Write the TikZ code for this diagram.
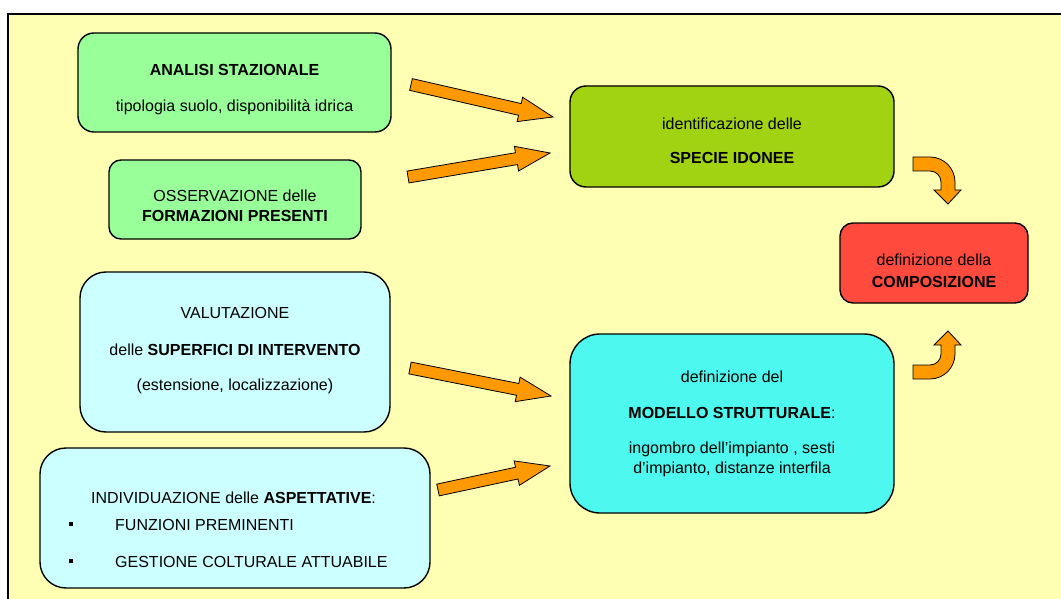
\documentclass[tikz,border=0pt]{standalone}
\usepackage{fontspec}
\setmainfont{Liberation Sans}
\usetikzlibrary{calc}
\definecolor{bgyel}{HTML}{FFFFB3}
\definecolor{lgreen}{HTML}{99FF99}
\definecolor{ygreen}{HTML}{A2D313}
\definecolor{redc}{HTML}{FF4A3D}
\definecolor{lcyan}{HTML}{CCFFFF}
\definecolor{cyanc}{HTML}{4DF8EE}
\definecolor{orangec}{HTML}{FF9900}
\newcommand\fatarrow[2]{%
  \coordinate (#1h) at ($(#2)!34pt!(#1)$);
  \draw[arr] ($(#1)!6pt!90:(#2)$) -- ($(#1h)!6pt!90:(#2)$) -- ($(#1h)!12.5pt!90:(#2)$) -- (#2)
    -- ($(#1h)!12.5pt!-90:(#2)$) -- ($(#1h)!6pt!-90:(#2)$) -- ($(#1)!6pt!-90:(#2)$) -- cycle;}
\begin{document}
\begin{tikzpicture}[x=1pt,y=-1pt,
  box/.style={draw=black, line width=1.4pt, inner sep=0pt},
  txt/.style={inner sep=0pt, anchor=base, font=\fontsize{16}{19}\selectfont},
  arr/.style={draw=black, line width=0.8pt, fill=orangec, line join=miter}]
\useasboundingbox (0,0) rectangle (1061,599);
\clip (0,0) rectangle (1061,599);
\fill[white] (0,0) rectangle (1061,599);
\draw[line width=1.4pt, fill=bgyel] (8,14) rectangle (1075,615);

% boxes
\node[box, fill=lgreen, minimum width=313pt, minimum height=99pt, rounded corners=16pt] (analisi) at (234.5,82.5) {};
\node[box, fill=lgreen, minimum width=252pt, minimum height=79pt, rounded corners=12pt] (osserv) at (235,199.5) {};
\node[box, fill=ygreen, minimum width=324pt, minimum height=101pt, rounded corners=16pt] (specie) at (732,136.5) {};
\node[box, fill=redc, minimum width=188pt, minimum height=80pt, rounded corners=13pt] (compos) at (934,263) {};
\node[box, fill=lcyan, minimum width=310pt, minimum height=160pt, rounded corners=26pt] (valut) at (235,352) {};
\node[box, fill=lcyan, minimum width=390pt, minimum height=140pt, rounded corners=26pt] (aspett) at (235,518) {};
\node[box, fill=cyanc, minimum width=324pt, minimum height=179pt, rounded corners=30pt] (modello) at (732,423.5) {};

% texts
\node[txt] (t1) at (234.5,76) {\textbf{ANALISI STAZIONALE}};
\node[txt] (t2) at (234.5,112) {tipologia suolo, disponibilità idrica};
\node[txt] (t3) at (235,201) {OSSERVAZIONE delle};
\node[txt] (t4) at (235,222) {\textbf{FORMAZIONI PRESENTI}};
\node[txt] (t5) at (235,318) {VALUTAZIONE};
\node[txt] (t6) at (235,355) {delle \textbf{SUPERFICI DI INTERVENTO}};
\node[txt] (t7) at (235,390) {(estensione, localizzazione)};
\node[txt] (t8) at (233.5,503) {INDIVIDUAZIONE delle \textbf{ASPETTATIVE}:};
\node[txt, anchor=base west] (t9) at (115,530) {FUNZIONI PREMINENTI};
\node[txt, anchor=base west] (t10) at (115,567) {GESTIONE COLTURALE ATTUABILE};
\node[fill=black, inner sep=0pt, minimum size=4.5pt] (b1) at (71,524) {};
\node[fill=black, inner sep=0pt, minimum size=4.5pt] (b2) at (71,561) {};
\node[txt] (t11) at (732,130) {identificazione delle};
\node[txt] (t12) at (732,164) {\textbf{SPECIE IDONEE}};
\node[txt] (t13) at (934,265) {definizione della};
\node[txt] (t14) at (934,287) {\textbf{COMPOSIZIONE}};
\node[txt] (t15) at (732,382) {definizione del};
\node[txt] (t16) at (732,418) {\textbf{MODELLO STRUTTURALE}:};
\node[txt] (t17) at (732,453) {ingombro dell’impianto , sesti};
\node[txt] (t18) at (732,473) {d’impianto, distanze interfila};

% straight arrows
\coordinate (a1) at (411,84.5); \coordinate (a1t) at (553,117);
\coordinate (a2) at (408,177);  \coordinate (a2t) at (550,153);
\coordinate (a3) at (410,368);  \coordinate (a3t) at (551,396);
\coordinate (a4) at (438,490);  \coordinate (a4t) at (550,466);
\fatarrow{a1}{a1t}
\fatarrow{a2}{a2t}
\fatarrow{a3}{a3t}
\fatarrow{a4}{a4t}

% curved arrows
\draw[arr] (913,157) -- (930,157) .. controls (943.8,157) and (955,168.2) .. (955,182)
  -- (955,190) -- (961,190) -- (948,204) -- (934,190) -- (941,190) -- (941,182)
  .. controls (941,175.9) and (936.1,171) .. (930,171) -- (913,171) -- cycle;
\draw[arr] (913,379) -- (930,379) .. controls (943.8,379) and (955,367.8) .. (955,354)
  -- (955,345) -- (961,345) -- (948,331) -- (934,345) -- (941,345) -- (941,354)
  .. controls (941,360.1) and (936.1,365) .. (930,365) -- (913,365) -- cycle;
\end{tikzpicture}
\end{document}
